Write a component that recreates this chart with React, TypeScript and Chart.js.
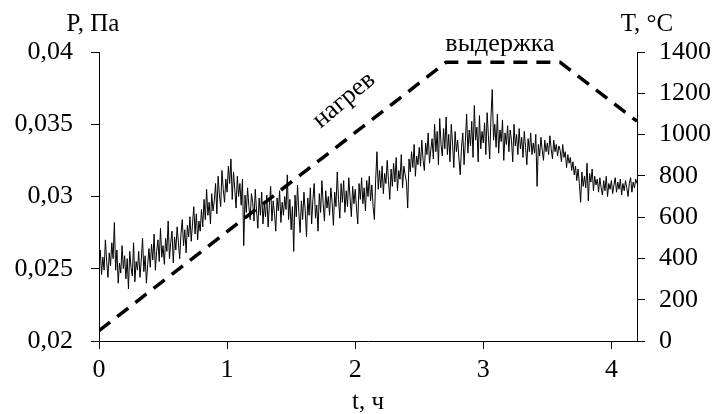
import React, { useEffect, useRef } from "react";
import { Chart, registerables } from "chart.js";

Chart.register(...registerables);

// time grid of the pressure record, hours
const T_START = 0;
const T_STEP = 0.01;

// pressure P, Pa, one value every 0.01 h
const pressure = [
  0.0251, 0.0263, 0.0246, 0.0258, 0.0249, 0.0270, 0.0255, 0.0244, 0.0261, 0.0252,
  0.0268, 0.0257, 0.0282, 0.0249, 0.0263, 0.0240, 0.0254, 0.0247, 0.0266, 0.0250,
  0.0259, 0.0243, 0.0257, 0.0236, 0.0262, 0.0251, 0.0245, 0.0268, 0.0241, 0.0255,
  0.0249, 0.0262, 0.0244, 0.0256, 0.0271, 0.0248, 0.0259, 0.0240, 0.0253, 0.0264,
  0.0251, 0.0267, 0.0256, 0.0274, 0.0249, 0.0262, 0.0270, 0.0255, 0.0278, 0.0258,
  0.0266, 0.0253, 0.0271, 0.0262, 0.0283, 0.0257, 0.0268, 0.0276, 0.0254, 0.0272,
  0.0263, 0.0279, 0.0268, 0.0257, 0.0274, 0.0284, 0.0266, 0.0277, 0.0261, 0.0280,
  0.0272, 0.0286, 0.0269, 0.0281, 0.0293, 0.0274, 0.0288, 0.0270, 0.0283, 0.0276,
  0.0291, 0.0279, 0.0298, 0.0284, 0.0305, 0.0287, 0.0296, 0.0281, 0.0302, 0.0290,
  0.0297, 0.0309, 0.0288, 0.0314, 0.0301, 0.0293, 0.0318, 0.0305, 0.0296, 0.0312,
  0.0303, 0.0321, 0.0309, 0.0326, 0.0298, 0.0317, 0.0305, 0.0292, 0.0314, 0.0300,
  0.0309, 0.0294, 0.0312, 0.0266, 0.0301, 0.0289, 0.0306, 0.0293, 0.0284, 0.0302,
  0.0296, 0.0283, 0.0305, 0.0290, 0.0278, 0.0299, 0.0287, 0.0303, 0.0281, 0.0295,
  0.0286, 0.0301, 0.0279, 0.0294, 0.0307, 0.0283, 0.0297, 0.0288, 0.0276, 0.0299,
  0.0290, 0.0304, 0.0282, 0.0296, 0.0287, 0.0300, 0.0291, 0.0315, 0.0284, 0.0298,
  0.0277, 0.0293, 0.0262, 0.0301, 0.0286, 0.0308, 0.0289, 0.0275, 0.0297, 0.0284,
  0.0303, 0.0290, 0.0272, 0.0299, 0.0287, 0.0306, 0.0281, 0.0298, 0.0309, 0.0285,
  0.0294, 0.0276, 0.0302, 0.0289, 0.0311, 0.0295, 0.0283, 0.0304, 0.0292, 0.0300,
  0.0287, 0.0306, 0.0296, 0.0280, 0.0303, 0.0293, 0.0317, 0.0298, 0.0285, 0.0309,
  0.0296, 0.0311, 0.0289, 0.0304, 0.0293, 0.0313, 0.0299, 0.0286, 0.0307, 0.0295,
  0.0305, 0.0292, 0.0281, 0.0309, 0.0298, 0.0313, 0.0295, 0.0306, 0.0290, 0.0311,
  0.0300, 0.0314, 0.0297, 0.0308, 0.0293, 0.0284, 0.0312, 0.0331, 0.0305, 0.0318,
  0.0306, 0.0321, 0.0302, 0.0316, 0.0309, 0.0325, 0.0311, 0.0298, 0.0319, 0.0307,
  0.0323, 0.0310, 0.0327, 0.0304, 0.0318, 0.0312, 0.0329, 0.0306, 0.0321, 0.0315,
  0.0310, 0.0292, 0.0326, 0.0317, 0.0331, 0.0320, 0.0336, 0.0314, 0.0328, 0.0322,
  0.0334, 0.0321, 0.0339, 0.0325, 0.0318, 0.0337, 0.0329, 0.0344, 0.0323, 0.0332,
  0.0340, 0.0326, 0.0350, 0.0331, 0.0345, 0.0322, 0.0354, 0.0336, 0.0328, 0.0347,
  0.0333, 0.0355, 0.0329, 0.0343, 0.0324, 0.0350, 0.0337, 0.0320, 0.0345, 0.0331,
  0.0339, 0.0326, 0.0315, 0.0334, 0.0344, 0.0322, 0.0338, 0.0357, 0.0330, 0.0346,
  0.0335, 0.0352, 0.0327, 0.0363, 0.0339, 0.0348, 0.0324, 0.0356, 0.0333, 0.0345,
  0.0337, 0.0351, 0.0329, 0.0358, 0.0342, 0.0326, 0.0355, 0.0374, 0.0339, 0.0350,
  0.0334, 0.0357, 0.0330, 0.0346, 0.0338, 0.0353, 0.0325, 0.0344, 0.0336, 0.0349,
  0.0331, 0.0346, 0.0339, 0.0324, 0.0350, 0.0335, 0.0343, 0.0329, 0.0347, 0.0333,
  0.0341, 0.0327, 0.0345, 0.0334, 0.0322, 0.0340, 0.0331, 0.0344, 0.0329, 0.0337,
  0.0330, 0.0343, 0.0307, 0.0336, 0.0328, 0.0341, 0.0332, 0.0325, 0.0339, 0.0331,
  0.0337, 0.0329, 0.0342, 0.0333, 0.0326, 0.0339, 0.0331, 0.0336, 0.0328, 0.0335,
  0.0332, 0.0324, 0.0336, 0.0327, 0.0331, 0.0320, 0.0329, 0.0323, 0.0327, 0.0318,
  0.0324, 0.0315, 0.0321, 0.0311, 0.0319, 0.0309, 0.0296, 0.0317, 0.0307, 0.0314,
  0.0306, 0.0323, 0.0297, 0.0316, 0.0310, 0.0319, 0.0304, 0.0314, 0.0308, 0.0312,
  0.0303, 0.0313, 0.0306, 0.0301, 0.0311, 0.0304, 0.0314, 0.0300, 0.0309, 0.0305,
  0.0311, 0.0302, 0.0308, 0.0313, 0.0303, 0.0310, 0.0305, 0.0312, 0.0301, 0.0309,
  0.0304, 0.0311, 0.0306, 0.0300, 0.0309, 0.0313, 0.0303, 0.0310, 0.0306, 0.0312, 0.0309,
];

// temperature program T, °C
const tempTimes = [0, 2.71, 3.6, 4.2];
const tempValues = [50, 1350, 1350, 1065];

// axis ticks
const xTicks = [0, 1, 2, 3, 4];
const pTicks = [0.02, 0.025, 0.03, 0.035, 0.04];
const tTicks = [0, 200, 400, 600, 800, 1000, 1200, 1400];

const FONT = "'Liberation Serif', 'Times New Roman', serif";

export default function App() {
  const ref = useRef<HTMLCanvasElement | null>(null);

  useEffect(() => {
    const canvas = ref.current;
    if (!canvas) return;

    const pData = pressure.map((v, i) => ({ x: T_START + i * T_STEP, y: v }));
    const tData = tempTimes.map((t, i) => ({ x: t, y: tempValues[i] }));

    const textPlugin = {
      id: "texts",
      afterDraw(chart: any) {
        const ctx = chart.ctx;
        ctx.save();
        ctx.fillStyle = "#000";
        ctx.textAlign = "center";
        ctx.textBaseline = "middle";
        ctx.font = `25px ${FONT}`;
        ctx.fillText("P, Па", 93, 24);
        ctx.fillText("T, °C", 647, 24);
        ctx.fillText("t, ч", 368, 402);
        ctx.font = `26px ${FONT}`;
        ctx.fillText("выдержка", 500, 44);
        ctx.translate(344, 100);
        ctx.rotate(-40 * Math.PI / 180);
        ctx.fillText("нагрев", 0, 0);
        ctx.restore();
      },
    };

    const chart = new Chart(canvas, {
      type: "line",
      data: {
        datasets: [
          {
            label: "P",
            data: pData,
            yAxisID: "yP",
            borderColor: "#000",
            borderWidth: 1,
            pointRadius: 0,
            tension: 0,
          },
          {
            label: "T",
            data: tData,
            yAxisID: "yT",
            borderColor: "#000",
            borderWidth: 3.5,
            borderDash: [14, 9],
            pointRadius: 0,
            tension: 0,
          },
        ],
      },
      options: {
        responsive: false,
        animation: false,
        layout: { padding: { top: 52, left: 0, right: 0, bottom: 0 } },
        plugins: { legend: { display: false }, tooltip: { enabled: false } },
        scales: {
          x: {
            type: "linear",
            min: 0,
            max: 4.2,
            afterFit: (s: any) => { s.height = 73; },
            afterBuildTicks: (s: any) => { s.ticks = xTicks.map((v) => ({ value: v })); },
            grid: { drawOnChartArea: false, drawTicks: true, tickLength: 8, color: "#000" },
            border: { display: true, color: "#000", width: 1 },
            ticks: { color: "#000", font: { family: FONT, size: 26 }, padding: 6, maxRotation: 0,
              callback: (v: any) => String(v) },
          },
          yP: {
            type: "linear",
            position: "left",
            min: 0.02,
            max: 0.04,
            afterFit: (s: any) => { s.width = 99; },
            afterBuildTicks: (s: any) => { s.ticks = pTicks.map((v) => ({ value: v })); },
            grid: { drawOnChartArea: false, drawTicks: true, tickLength: 8, color: "#000" },
            border: { display: true, color: "#000", width: 1 },
            ticks: { color: "#000", font: { family: FONT, size: 26 }, padding: 18,
              callback: (v: any) => String(v).replace(".", ",") },
          },
          yT: {
            type: "linear",
            position: "right",
            min: 0,
            max: 1400,
            afterFit: (s: any) => { s.width = 78; },
            afterBuildTicks: (s: any) => { s.ticks = tTicks.map((v) => ({ value: v })); },
            grid: { drawOnChartArea: false, drawTicks: true, tickLength: 8, color: "#000" },
            border: { display: true, color: "#000", width: 1 },
            ticks: { color: "#000", font: { family: FONT, size: 26 }, padding: 14,
              callback: (v: any) => String(v) },
          },
        },
      },
      plugins: [textPlugin],
    });

    return () => chart.destroy();
  }, []);

  return (
    <div style={{ position: "absolute", left: 0, top: 0, width: 715, height: 414, background: "#fff" }}>
      <canvas ref={ref} width={715} height={414} />
    </div>
  );
}
